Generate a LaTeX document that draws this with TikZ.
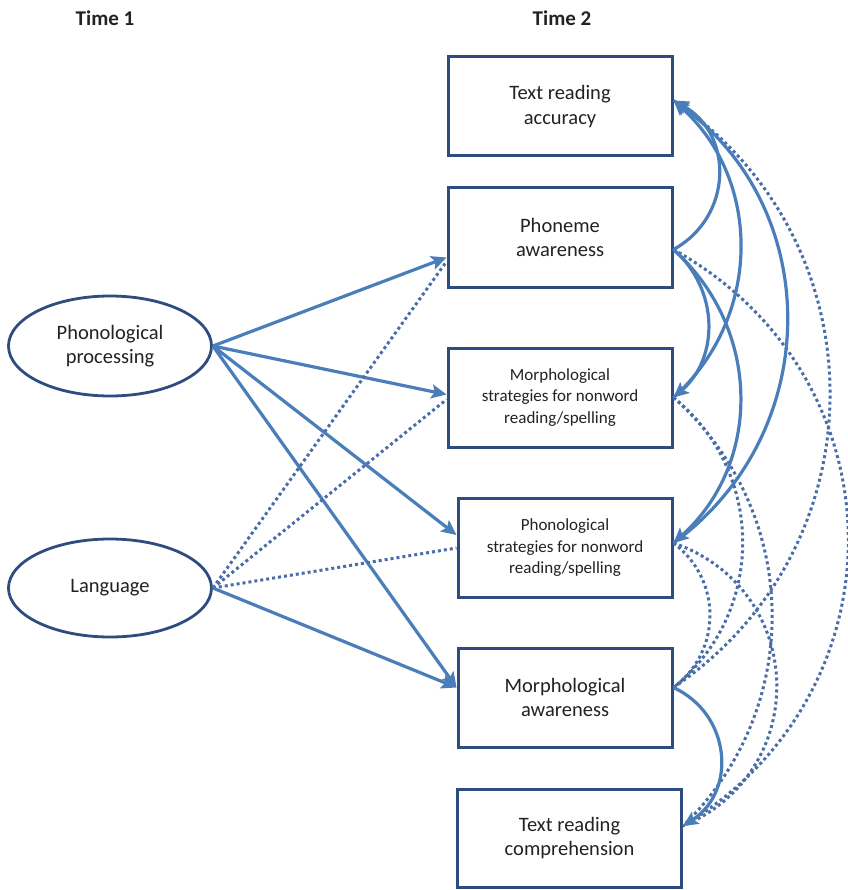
\documentclass[tikz,border=0pt]{standalone}
\usepackage{fontspec}
\setmainfont{Carlito}
\usetikzlibrary{arrows.meta,positioning,shapes.geometric}
\definecolor{edge}{HTML}{2E4C7E}
\definecolor{link}{HTML}{4A7EBB}
\definecolor{dots}{HTML}{4A6DA8}
\definecolor{ink}{HTML}{222222}
\newcommand{\bigtxt}{\fontsize{20.5}{24.5}\selectfont}
\newcommand{\smalltxt}{\fontsize{17}{21.5}\selectfont}
\tikzset{
  latent/.style={ellipse,draw=edge,line width=2.8pt,fill=white,inner sep=0pt,
    minimum width=203pt,minimum height=100pt,align=center,text=ink,font=\bigtxt},
  obs/.style={rectangle,draw=edge,line width=3pt,fill=white,inner sep=0pt,
    minimum width=224pt,minimum height=99pt,align=center,text=ink,font=\bigtxt},
  obsn/.style={obs,minimum width=214pt},
  obss/.style={obs,font=\smalltxt},
  timelab/.style={font=\fontsize{21}{24}\selectfont\bfseries,text=ink},
  % --- one-way paths from Time 1 ---
  reg/.style={draw=link,line width=3.2pt,-{Stealth[length=15pt,width=14pt,inset=3pt]}},
  dreg/.style={draw=dots,line width=3pt,dash pattern=on 3pt off 3pt},
  % --- correlations at Time 2 ---
  corr/.style={reg},
  dcorr/.style={dreg},
}
\begin{document}
\begin{tikzpicture}[x=1pt,y=-1pt]
  \useasboundingbox (0,0) rectangle (847,890);
  % ---- column heads ----
  \node[timelab] (t1) at (105,18) {Time 1};
  \node[timelab] (t2) at (562,18) {Time 2};
  % ---- Time 1 ----
  \node[latent] (pp)   at (110,346) {Phonological\\processing};
  \node[latent,minimum height=98pt] (lang) at (110,588) {Language};
  % ---- Time 2 ----
  \node[obs]  (acc)  at (560,106.5) {Text reading\\accuracy};
  \node[obs]  (pha)  at (560,237.5) {Phoneme\\awareness};
  \node[obss] (mstr) at (560,397.5) {Morphological\\strategies for nonword\\reading/spelling};
  \node[obss,minimum width=214pt] (pstr) at (565,548) {Phonological\\strategies for nonword\\reading/spelling};
  \node[obsn] (mora) at (565,697.5) {Morphological\\awareness};
  \node[obs,minimum height=98pt] (comp) at (569.5,838) {Text reading\\comprehension};
  % ---- paths, left ----
  \draw[reg]  (pp.east) -- ([yshift=-20pt]pha.west);
  \draw[reg]  (pp.east) -- ([yshift=3pt]mstr.west);
  \draw[reg]  (pp.east) -- ([yshift=13pt]pstr.west);
  \draw[reg]  (pp.east) -- ([yshift=10pt]mora.west);
  \draw[dreg] (lang.east) -- ([yshift=-24pt]pha.west);
  \draw[dreg] (lang.east) -- ([yshift=-2pt]mstr.west);
  \draw[dreg] (lang.east) -- (pstr.west);
  \draw[reg]  (lang.east) -- ([yshift=10pt]mora.west);
  % ---- correlations, right ----
  \draw[dcorr] ([yshift=-12pt]pha.east) to[bend left=60,looseness=1.16] ([yshift=12pt]comp.east);
  \draw[dcorr] ([yshift=6pt]acc.east)   to[bend left=56,looseness=1.1]  ([yshift=10pt]mora.east);
  \draw[dcorr] (mstr.east)              to[bend left=47,looseness=1.02] ([yshift=12pt]comp.east);
  \draw[dcorr] (mstr.east)              to[bend left=51,looseness=1.05] ([yshift=10pt]mora.east);
  \draw[dcorr] ([yshift=5pt]pstr.east)  to[bend left=69,looseness=1.27] ([yshift=12pt]comp.east);
  \draw[dcorr] ([yshift=5pt]pstr.east)  to[bend left=53,looseness=1.08] ([yshift=10pt]mora.east);
  \draw[corr] ([yshift=-12pt]pha.east) to[bend right=61,looseness=1.18] ([yshift=6pt]acc.east);
  \draw[corr] (mstr.east)              to[bend right=48,looseness=1.03] ([yshift=6pt]acc.east);
  \draw[corr] ([yshift=5pt]pstr.east)  to[bend right=54,looseness=1.08] ([yshift=6pt]acc.east);
  \draw[corr] ([yshift=-12pt]pha.east) to[bend left=49,looseness=1.05]  (mstr.east);
  \draw[corr] ([yshift=-12pt]pha.east) to[bend left=48,looseness=1.04]  ([yshift=5pt]pstr.east);
  \draw[corr] ([yshift=10pt]mora.east) to[bend left=61,looseness=1.18]  ([yshift=12pt]comp.east);
\end{tikzpicture}
\end{document}
